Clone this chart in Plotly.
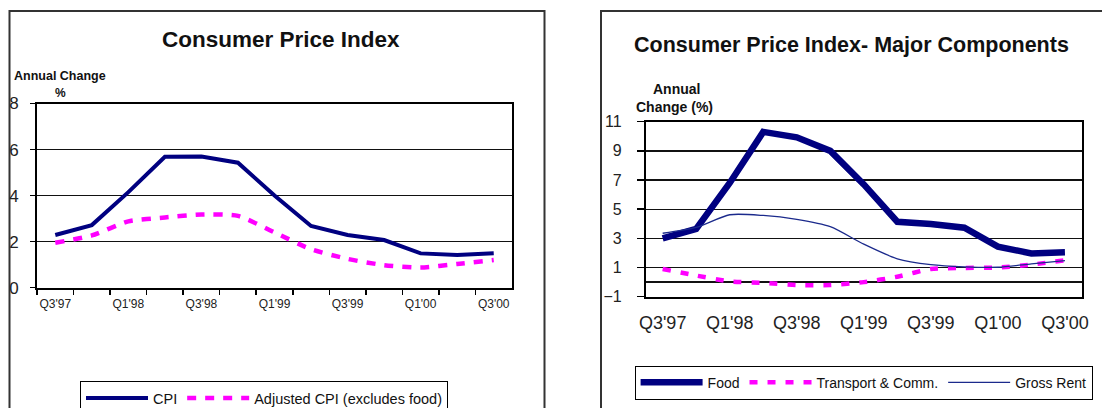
import plotly.graph_objects as go

# ---------------- data ----------------
quarters = ["Q3'97", "Q4'97", "Q1'98", "Q2'98", "Q3'98", "Q4'98", "Q1'99",
            "Q2'99", "Q3'99", "Q4'99", "Q1'00", "Q2'00", "Q3'00"]
tick_labels = [q if i % 2 == 0 else "" for i, q in enumerate(quarters)]

cpi = [2.29, 2.72, 4.15, 5.69, 5.70, 5.43, 4.00, 2.68, 2.29, 2.07, 1.49, 1.42, 1.50]
adjusted_cpi = [1.95, 2.27, 2.88, 3.05, 3.18, 3.12, 2.40, 1.67, 1.25, 0.98, 0.88, 1.03, 1.20]

food = [3.00, 3.65, 6.80, 10.30, 9.93, 9.00, 6.70, 4.14, 3.98, 3.73, 2.43, 1.97, 2.04]
transport = [0.90, 0.45, 0.05, -0.05, -0.20, -0.20, 0.00, 0.37, 0.90, 0.97, 1.00, 1.20, 1.50]
gross_rent = [3.35, 3.75, 4.62, 4.57, 4.30, 3.80, 2.60, 1.60, 1.20, 1.05, 1.02, 1.25, 1.48]

left_yticks = [0, 2, 4, 6, 8]
right_yticks = [-1, 1, 3, 5, 7, 9, 11]

# ---------------- layout helpers ----------------
W, H = 1102, 408
FONT = "Arial, Liberation Sans, sans-serif"
NAVY = "#000080"
MAGENTA = "#FF00FF"


def px(x):
    return x / W


def py(y):
    return 1 - y / H


fig = go.Figure()

# Left chart
fig.add_trace(go.Scatter(x=quarters, y=cpi, name="CPI", mode="lines",
                         line=dict(color=NAVY, width=4), xaxis="x", yaxis="y",
                         legend="legend"))
fig.add_trace(go.Scatter(x=quarters, y=adjusted_cpi, name="Adjusted CPI (excludes food)",
                         mode="lines", line=dict(color=MAGENTA, width=4.5, dash="9px,9px",
                                                 shape="spline", smoothing=0.6),
                         xaxis="x", yaxis="y", legend="legend"))

# Right chart
fig.add_trace(go.Scatter(x=quarters, y=food, name="Food", mode="lines",
                         line=dict(color=NAVY, width=6.5), xaxis="x2", yaxis="y2",
                         legend="legend2"))
fig.add_trace(go.Scatter(x=quarters, y=transport, name="Transport & Comm.", mode="lines",
                         line=dict(color=MAGENTA, width=4.5, dash="8px,10px",
                                   shape="spline", smoothing=0.6),
                         xaxis="x2", yaxis="y2", legend="legend2"))
fig.add_trace(go.Scatter(x=quarters, y=gross_rent, name="Gross Rent", mode="lines",
                         line=dict(color="#1b2a8c", width=1.3, shape="spline", smoothing=0.7),
                         xaxis="x2", yaxis="y2", legend="legend2"))

left_ydom = [py(287.7), py(103.5)]
right_ydom = [py(296.7), py(121.7)]
zero_pos = right_ydom[0] + (0 - (-1)) / 12 * (right_ydom[1] - right_ydom[0])

axis_common = dict(showline=True, linecolor="black", linewidth=2, mirror=True,
                   fixedrange=True, automargin=False)

fig.update_layout(
    width=W, height=H,
    margin=dict(l=0, r=0, t=0, b=0, autoexpand=False),
    paper_bgcolor="white", plot_bgcolor="white",
    font=dict(family=FONT, color="#111"),
    xaxis=dict(domain=[px(37), px(512)], anchor="y", type="category",
               categoryorder="array", categoryarray=quarters, range=[-0.5, 12.5],
               tickmode="array", tickvals=quarters, ticktext=tick_labels,
               tickson="boundaries", ticks="outside", ticklen=5, tickwidth=1.5,
               tickcolor="black", showgrid=False, tickangle=0,
               tickfont=dict(size=12, color="#222"), ticklabelstandoff=4,
               **axis_common),
    yaxis=dict(domain=left_ydom, anchor="x", range=[0, 8], tickmode="array",
               tickvals=left_yticks, ticks="outside", ticklen=5, tickwidth=1.5,
               tickcolor="black", showgrid=True, gridcolor="#111", gridwidth=1.3,
               zeroline=False, tickfont=dict(size=17, color="#222"),
               ticklabelstandoff=8, **axis_common),
    xaxis2=dict(domain=[px(645.9), px(1081.7)], anchor="y2", type="category",
                categoryorder="array", categoryarray=quarters, range=[-0.5, 12.5],
                tickmode="array", tickvals=quarters, ticktext=tick_labels,
                ticks="", showgrid=False, tickangle=0,
                tickfont=dict(size=18, color="#222"), ticklabelstandoff=9,
                **axis_common),
    xaxis3=dict(overlaying="x2", anchor="free", position=zero_pos, type="linear",
                range=[-0.5, 12.5], tickmode="array",
                tickvals=[i - 0.5 for i in range(len(quarters) + 1)],
                ticks="outside", ticklen=5, tickwidth=1.5, tickcolor="black",
                showticklabels=False, showgrid=False, zeroline=False,
                showline=False, fixedrange=True, automargin=False),
    yaxis2=dict(domain=right_ydom, anchor="x2", range=[-1, 11], tickmode="array",
                tickvals=right_yticks, ticks="outside", ticklen=7, tickwidth=1.5,
                tickcolor="black", showgrid=True, gridcolor="#111", gridwidth=1.3,
                zeroline=True, zerolinecolor="#111", zerolinewidth=1.3,
                tickfont=dict(size=16, color="#222"), ticklabelstandoff=12,
                **axis_common),
    legend=dict(orientation="h", x=px(80), y=py(381), xanchor="left", yanchor="top",
                bordercolor="black", borderwidth=1, bgcolor="white",
                font=dict(size=14.5, color="#111"), itemwidth=62,
                itemclick=False, itemdoubleclick=False),
    legend2=dict(orientation="h", x=px(634.6), y=py(365.7), xanchor="left",
                 yanchor="top", bordercolor="black", borderwidth=1, bgcolor="white",
                 font=dict(size=14, color="#111"), itemwidth=62,
                 itemclick=False, itemdoubleclick=False),
    showlegend=True,
)

# outer chart frames
fig.add_shape(type="rect", xref="paper", yref="paper", x0=px(9.5), x1=px(544.5),
              y0=py(430), y1=py(11), line=dict(color="#333", width=2), layer="below")
fig.add_shape(type="rect", xref="paper", yref="paper", x0=px(601), x1=px(1120),
              y0=py(430), y1=py(11), line=dict(color="#333", width=2), layer="below")

# titles and axis captions
ann = [
    dict(text="<b>Consumer Price Index</b>", x=px(281), y=py(40), size=22.5),
    dict(text="<b>Consumer Price Index- Major Components</b>", x=px(851), y=py(45), size=21.5),
    dict(text="<b>Annual Change</b>", x=px(59.5), y=py(76), size=12.5),
    dict(text="<b>%</b>", x=px(60.4), y=py(93), size=12),
    dict(text="<b>Annual</b>", x=px(676.5), y=py(89.3), size=14),
    dict(text="<b>Change (%)</b>", x=px(674), y=py(106.7), size=14),
]
for a in ann:
    fig.add_annotation(text=a["text"], x=a["x"], y=a["y"], xref="paper", yref="paper",
                       xanchor="center", yanchor="middle", showarrow=False,
                       font=dict(size=a["size"], family=FONT, color="#111"))

fig.write_html("out.html",
               config={"displayModeBar": False, "staticPlot": True},
               post_script="document.body.style.margin='0';"
                           "document.body.style.overflow='hidden';")
